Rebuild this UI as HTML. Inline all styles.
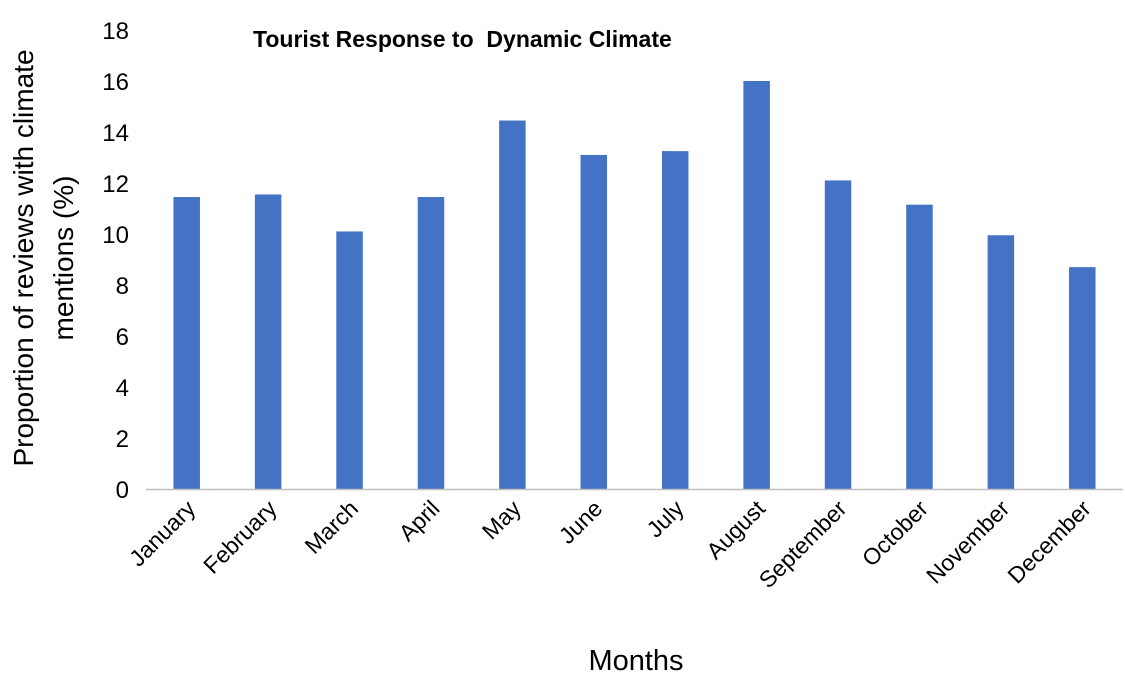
<!DOCTYPE html>
<html><head><meta charset="utf-8"><style>
body{margin:0;background:#fff;}
svg{display:block;font-family:"Liberation Sans",Arial,sans-serif;}
</style></head><body>
<svg id="chart" width="1125" height="679">
<text x="253" y="47" font-size="23" font-weight="bold" fill="#000" style="white-space:pre">Tourist Response to  Dynamic Climate</text>
<g id="yticks"></g>
<g id="bars"></g>
<g id="xlabels"></g>
<line x1="146" x2="1123" y1="489.5" y2="489.5" stroke="#bfbfbf" stroke-width="1.5"/>
<text transform="translate(33,258) rotate(-90)" text-anchor="middle" font-size="28" fill="#000"><tspan x="0" dy="0">Proportion of reviews with climate</tspan><tspan x="0" dy="40">mentions (%)</tspan></text>
<text x="636" y="670" text-anchor="middle" font-size="29" fill="#000">Months</text>
</svg>
<script>
const categories=["January","February","March","April","May","June","July","August","September","October","November","December"];
const values=[11.45,11.55,10.1,11.45,14.45,13.1,13.25,16.0,12.1,11.15,9.95,8.7];
const yTicks=[0,2,4,6,8,10,12,14,16,18];
const NS="http://www.w3.org/2000/svg";
const left=146,right=1123,y0=489,yTop=30,yMax=18;
const band=(right-left)/categories.length;
const barW=26.5;
function yScale(v){return y0-(v/yMax)*(y0-yTop);}
function xCenter(i){return left+band*(i+0.5);}
const yt=document.getElementById('yticks');
yTicks.forEach(t=>{
  const e=document.createElementNS(NS,'text');
  e.setAttribute('x',129);e.setAttribute('y',yScale(t)+9);
  e.setAttribute('text-anchor','end');e.setAttribute('font-size','24');
  
  
  e.textContent=t;yt.appendChild(e);
});
const bg=document.getElementById('bars'),xl=document.getElementById('xlabels');
categories.forEach((c,i)=>{
  const r=document.createElementNS(NS,'rect');
  const cx=xCenter(i);
  r.setAttribute('x',cx-barW/2);r.setAttribute('y',yScale(values[i]));
  r.setAttribute('width',barW);r.setAttribute('height',y0-yScale(values[i]));
  r.setAttribute('fill','#4472c4');
  
  
  bg.appendChild(r);
  const t=document.createElementNS(NS,'text');
  t.setAttribute('transform','translate('+(cx+10)+',510) rotate(-45)');
  t.setAttribute('text-anchor','end');t.setAttribute('font-size','23');
  
  
  t.textContent=c;xl.appendChild(t);
});
</script>
</body></html>
